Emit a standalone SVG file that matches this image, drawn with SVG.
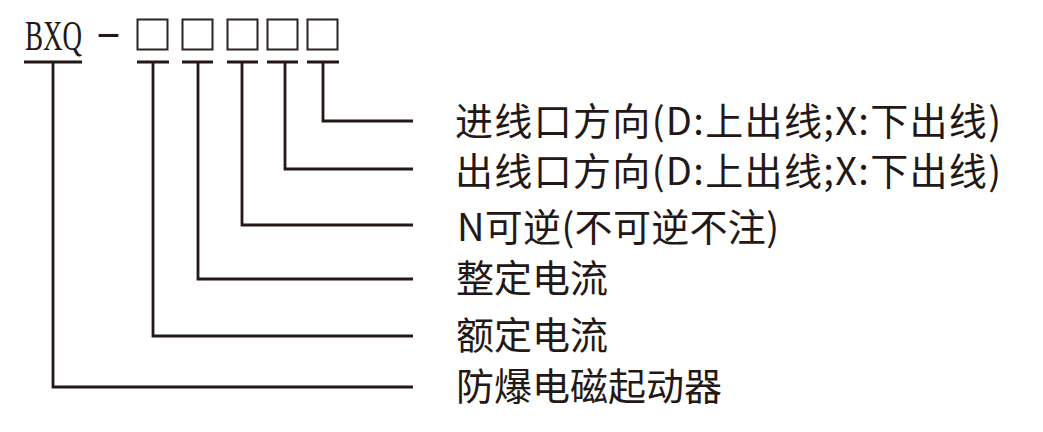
<svg xmlns="http://www.w3.org/2000/svg" width="1043" height="432" viewBox="0 0 1043 432">
<style>
.lbl{font-family:"Noto Sans CJK SC","Noto Sans",sans-serif;font-size:38px;fill:#231815}
.code{font-family:"Liberation Serif",serif;font-size:42px;fill:#231815}
.box{fill:none;stroke:#2b2422;stroke-width:2}
.ln{fill:none;stroke:#231815;stroke-width:2.8;stroke-linejoin:miter;stroke-linecap:butt}
</style>
<rect width="1043" height="432" fill="#ffffff"/>
<g id="model">
<text class="code" transform="translate(25,50) scale(0.643,1)" x="0" y="0">BXQ</text>
<text x="95" y="46" font-family="Liberation Sans,sans-serif" font-size="38" fill="#231815" textLength="27" lengthAdjust="spacingAndGlyphs">-</text>
<rect class="box" x="137.5" y="19.5" width="30" height="30"/>
<rect class="box" x="182.5" y="19.5" width="30" height="30"/>
<rect class="box" x="227.5" y="19.5" width="30" height="30"/>
<rect class="box" x="267.5" y="19.5" width="30" height="30"/>
<rect class="box" x="307.5" y="19.5" width="30" height="30"/>
</g>
<g id="connectors">
<path class="ln" d="M24 62H82M137 62H169M182 62H213M227 62H258M267 62H298M307 62H339"/>
<path class="ln" d="M53 62V387H413"/>
<path class="ln" d="M153 62V336H413"/>
<path class="ln" d="M198 62V279H413"/>
<path class="ln" d="M242 62V225H413"/>
<path class="ln" d="M285 62V169H413"/>
<path class="ln" d="M323 62V121H413"/>
</g>
<g id="label-inlet"><text class="lbl" x="455" y="135" textLength="546" lengthAdjust="spacing">进线口方向(D:上出线;X:下出线)</text></g>
<g id="label-outlet"><text class="lbl" x="455" y="185" textLength="546" lengthAdjust="spacing">出线口方向(D:上出线;X:下出线)</text></g>
<g id="label-reversible"><text class="lbl" x="457" y="241" textLength="322" lengthAdjust="spacing">N可逆(不可逆不注)</text></g>
<g id="label-setting"><text class="lbl" x="456" y="292">整定电流</text></g>
<g id="label-rated"><text class="lbl" x="456" y="349">额定电流</text></g>
<g id="label-type"><text class="lbl" x="456" y="400">防爆电磁起动器</text></g>
</svg>
